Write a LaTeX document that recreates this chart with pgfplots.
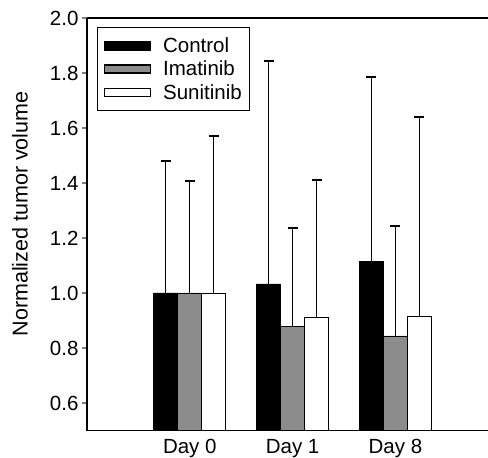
\documentclass[border=0pt]{standalone}
\usepackage{pgfplots}
\pgfplotsset{compat=1.18}
\usepackage{fontspec}
\setmainfont{Liberation Sans}
\definecolor{imagray}{RGB}{140,140,140}
\begin{document}
\begin{tikzpicture}
\begin{axis}[
    scale only axis,
    width=401pt,
    height=412.5pt,
    xmin=-1, xmax=2.9,
    ymin=0.5, ymax=2.0,
    ytick={0.6,0.8,...,2.0},
    yticklabel style={/pgf/number format/fixed,/pgf/number format/fixed zerofill,/pgf/number format/precision=1},
    /pgf/number format/assume math mode=true,
    xtick=data,
    xticklabels={Day 0,Day 1,Day 8},
    xtick style={draw=none},
    axis lines*=left,
    ytick pos=left,
    tick align=outside,
    major tick length=5pt,
    axis line style={line width=1.4pt},
    y tick style={line width=1.2pt},
    tick label style={font=\fontsize{20.5}{23}\selectfont},
    label style={font=\fontsize{21.5}{23}\selectfont},
    ylabel={Normalized tumor volume},
    ylabel style={at={(axis description cs:-0.167,0.525)}, anchor=center},
    ybar=0pt,
    bar width=24pt,
    error bars/y dir=plus,
    error bars/y explicit,
    error bars/error mark options={rotate=90, mark size=5pt, line width=1.8pt},
    error bars/error bar style={line width=1.3pt, black},
    legend style={
        at={(axis description cs:0,1)},
        anchor=north west,
        xshift=10pt, yshift=-9pt,
        draw=black, line width=1.2pt,
        font=\fontsize{20.5}{23}\selectfont,
        row sep=3pt,
        inner xsep=6pt, inner ysep=8pt,
        /tikz/every odd column/.append style={column sep=10pt},
    },
    legend cell align={left},
    legend image code/.code={\draw[#1, line width=1.5pt] (0pt,-4pt) rectangle (46pt,4pt);},
]
% Control
\addplot[fill=black, draw=black, line width=0.8pt] coordinates {
    (0,1.000) +- (0,0.480)
    (1,1.033) +- (0,0.812)
    (2,1.116) +- (0,0.668)
};
\addlegendentry{Control}
% Imatinib
\addplot[fill=imagray, draw=black, line width=0.8pt] coordinates {
    (0,1.000) +- (0,0.407)
    (1,0.880) +- (0,0.355)
    (2,0.844) +- (0,0.400)
};
\addlegendentry{Imatinib}
% Sunitinib
\addplot[fill=white, draw=black, line width=0.8pt] coordinates {
    (0,1.000) +- (0,0.571)
    (1,0.912) +- (0,0.499)
    (2,0.914) +- (0,0.727)
};
\addlegendentry{Sunitinib}
% top frame line (no right spine in the reference)
\draw[line width=1.4pt] (rel axis cs:0,1) -- (rel axis cs:1,1);
\coordinate (ll) at (rel axis cs:0,0);
\coordinate (ur) at (rel axis cs:1,1);
\end{axis}
\pgfresetboundingbox
\path[use as bounding box] ([xshift=-87pt,yshift=-26.5pt]ll) rectangle ([yshift=18pt]ur);
\end{tikzpicture}
\end{document}
